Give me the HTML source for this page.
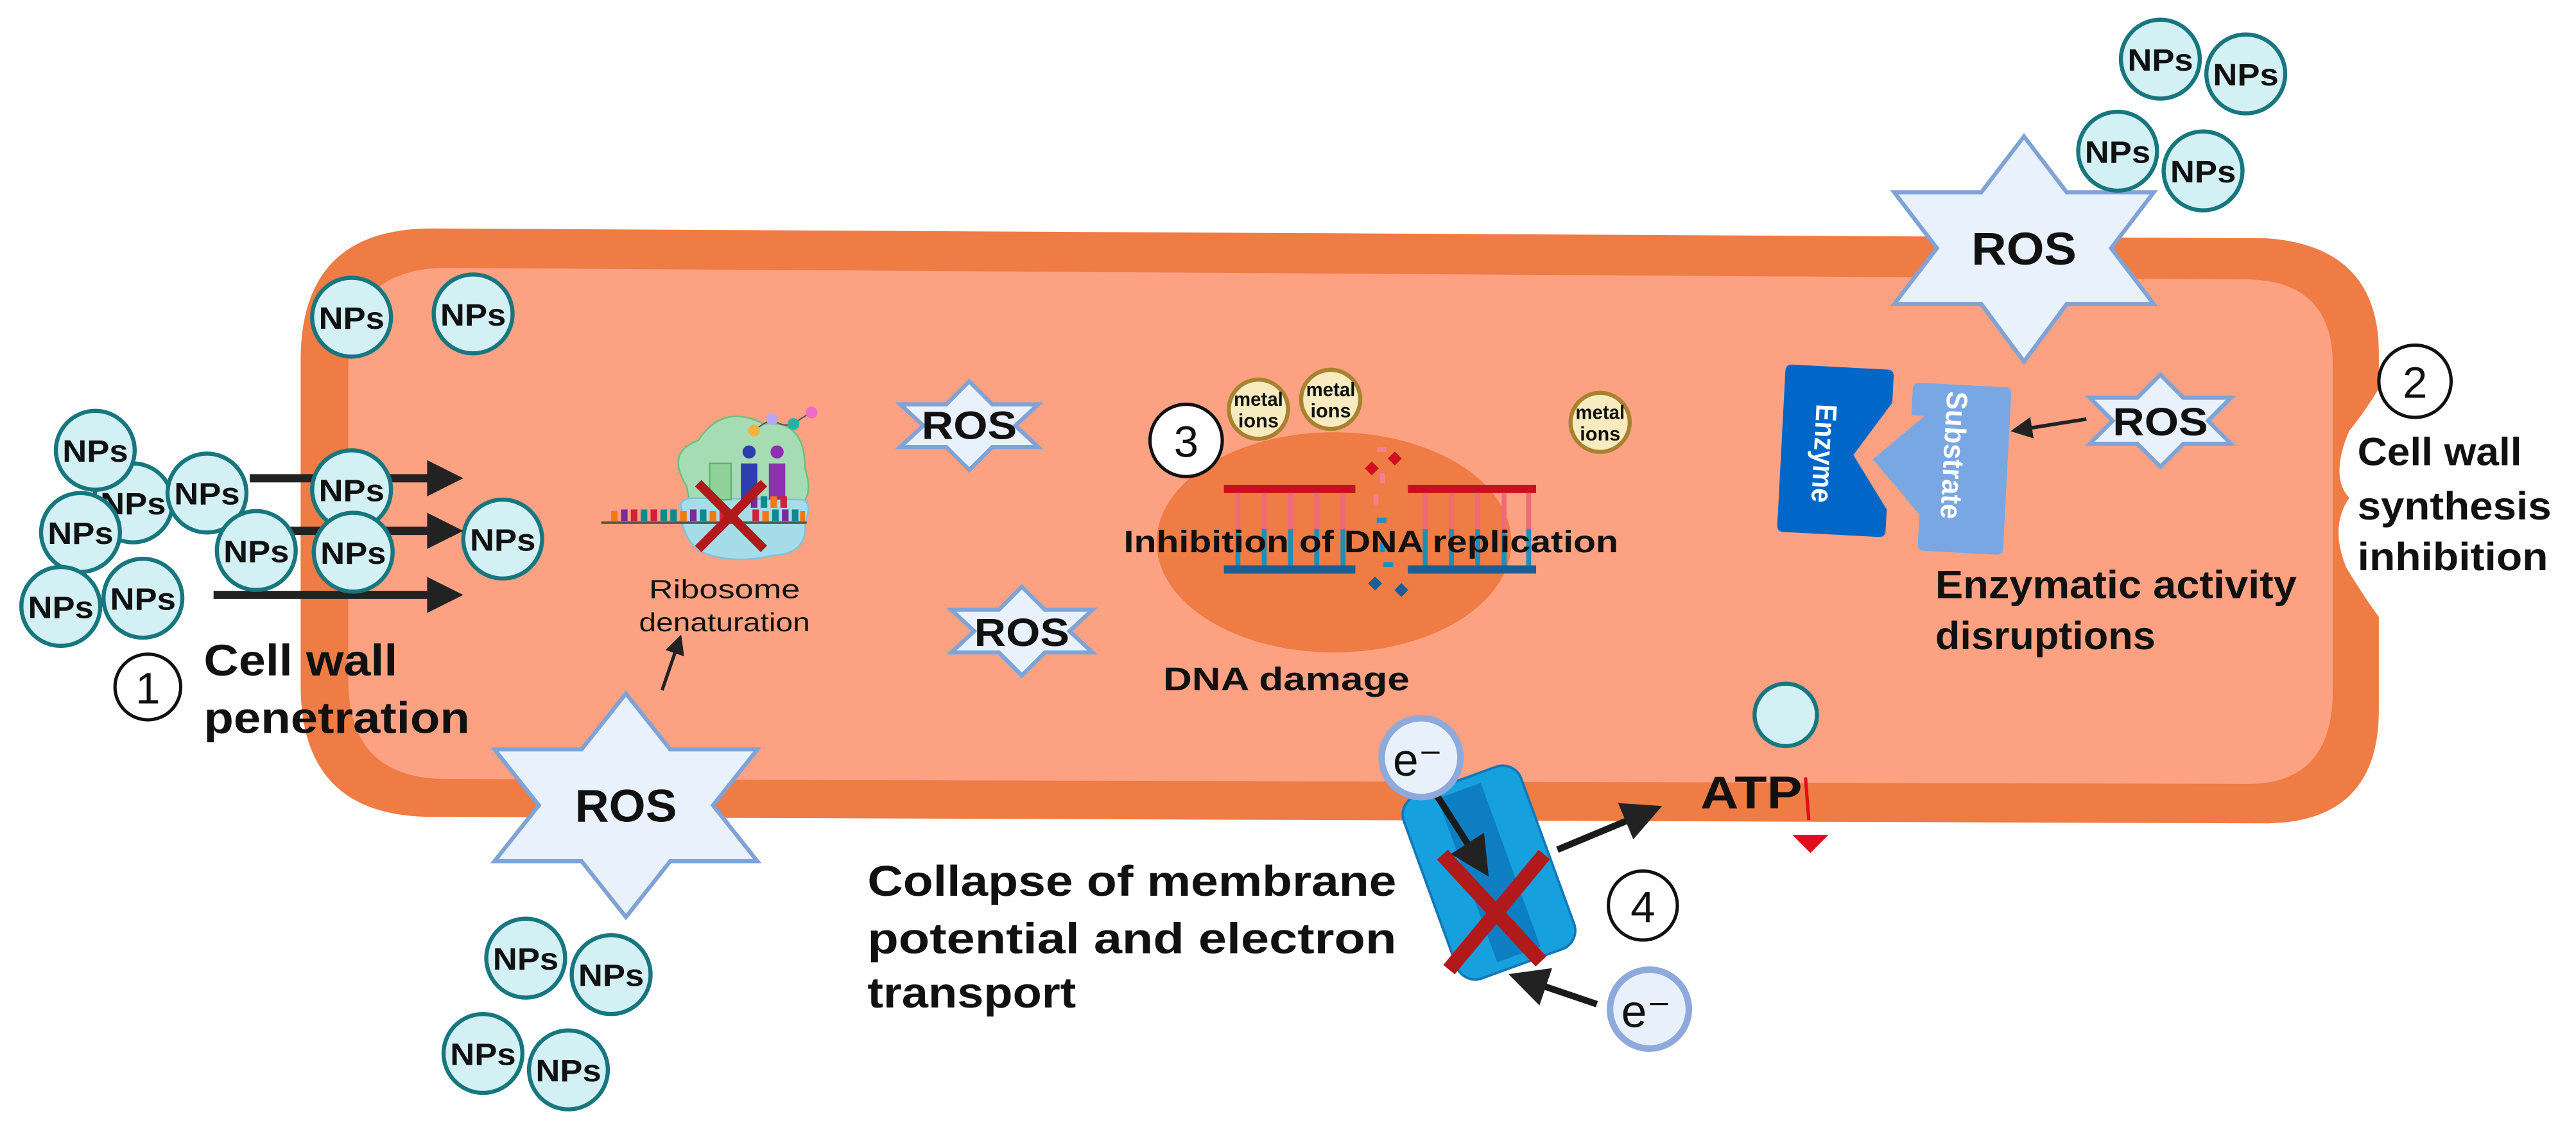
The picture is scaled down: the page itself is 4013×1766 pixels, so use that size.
<!DOCTYPE html>
<html><head><meta charset="utf-8"><style>
html,body{margin:0;padding:0;background:#fff;}
svg{display:block;}
text{font-family:"Liberation Sans",sans-serif;font-weight:bold;fill:#111;}
</style></head><body>
<svg width="4013" height="1766" viewBox="0 0 1568 690" preserveAspectRatio="none" xmlns="http://www.w3.org/2000/svg">
<defs>
<marker id="ah" markerWidth="6" markerHeight="6" refX="5" refY="3" orient="auto" markerUnits="strokeWidth"><path d="M0,0 L6,3 L0,6 z" fill="#222"/></marker>
<g id="np"><circle r="24" fill="#D3F0F5" stroke="#17767E" stroke-width="2.5"/><text y="7" text-anchor="middle" font-size="19" textLength="40" lengthAdjust="spacingAndGlyphs">NPs</text></g>
<g id="mi"><circle r="18" fill="#F8EBC0" stroke="#A8822E" stroke-width="2.5"/><text y="-2" text-anchor="middle" font-size="12" textLength="30" lengthAdjust="spacingAndGlyphs">metal</text><text y="11" text-anchor="middle" font-size="12">ions</text></g>
</defs>
<!-- cell -->
<path d="M263,139 L1380,145 Q1448,150 1448,215 L1448,432 Q1448,500 1380,501 L263,497 Q183,497 183,417 L183,219 Q183,139 263,139 Z" fill="#EF7B45"/>
<path d="M272,163 L1370,170 Q1420,172 1420,222 L1420,420 Q1420,476 1370,477 L272,474 Q212,474 212,414 L212,223 Q212,163 272,163 Z" fill="#FCA283"/>
<path d="M1450,233 Q1440,250 1430,262 Q1418,290 1430,303 Q1418,320 1428,345 Q1440,365 1450,378 Z" fill="#fff"/>
<!-- nucleoid -->
<ellipse cx="812" cy="330" rx="108" ry="67" fill="#EF7B45"/>
<!-- DNA -->
<g>
<rect x="745" y="295" width="80" height="5" fill="#C8101E"/><rect x="857" y="295" width="78" height="5" fill="#C8101E"/>
<rect x="745" y="344" width="80" height="5" fill="#1A5E96"/><rect x="857" y="344" width="78" height="5" fill="#1A5E96"/>
<g fill="#F06A78"><rect x="752" y="300" width="3" height="22"/><rect x="768" y="300" width="3" height="22"/><rect x="784" y="300" width="3" height="22"/><rect x="800" y="300" width="3" height="22"/><rect x="816" y="300" width="3" height="22"/><rect x="866" y="300" width="3" height="22"/><rect x="882" y="300" width="3" height="22"/><rect x="898" y="300" width="3" height="22"/><rect x="914" y="300" width="3" height="22"/><rect x="929" y="300" width="3" height="22"/></g>
<g fill="#1B8FB8"><rect x="752" y="322" width="3" height="22"/><rect x="768" y="322" width="3" height="22"/><rect x="784" y="322" width="3" height="22"/><rect x="800" y="322" width="3" height="22"/><rect x="816" y="322" width="3" height="22"/><rect x="866" y="322" width="3" height="22"/><rect x="882" y="322" width="3" height="22"/><rect x="898" y="322" width="3" height="22"/><rect x="914" y="322" width="3" height="22"/><rect x="929" y="322" width="3" height="22"/></g>
<g fill="#D0101E"><rect x="832" y="282" width="6" height="6" transform="rotate(45 835 285)"/><rect x="846" y="276" width="6" height="6" transform="rotate(45 849 279)"/></g>
<g fill="#F28090"><rect x="838" y="272" width="6" height="3"/><rect x="840" y="288" width="3" height="6"/><rect x="836" y="301" width="3" height="6"/></g>
<g fill="#1A8FC0"><rect x="838" y="315" width="6" height="3"/><rect x="840" y="330" width="3" height="6"/><rect x="842" y="342" width="6" height="3"/></g>
<g fill="#1A5E96"><rect x="834" y="352" width="6" height="6" transform="rotate(45 837 355)"/><rect x="850" y="356" width="6" height="6" transform="rotate(45 853 359)"/></g>
</g>
<text x="684" y="336" font-size="19" textLength="301" lengthAdjust="spacingAndGlyphs">Inhibition of DNA replication</text>
<text x="708" y="420" font-size="20" textLength="150" lengthAdjust="spacingAndGlyphs">DNA damage</text>
<!-- circle 3 -->
<circle cx="722" cy="268" r="22" fill="#fff" stroke="#111" stroke-width="2"/><text x="722" y="278" text-anchor="middle" font-size="27" style="font-weight:normal">3</text>
<use href="#mi" x="766" y="249"/><use href="#mi" x="810" y="243"/><use href="#mi" x="974" y="257"/>
<!-- ribosome -->
<g>
<path d="M418,296 Q405,275 425,268 Q440,245 465,258 Q490,255 490,285 Q495,300 488,307 L420,307 Z" fill="#A6DCB4" stroke="#6CC07E" stroke-width="1"/>
<path d="M415,310 Q412,304 422,303 L488,304 Q495,306 490,318 Q492,337 470,338 Q445,344 425,335 Q414,325 415,310 Z" fill="#A6DCE8" stroke="#7CC3DA" stroke-width="1"/>
<rect x="432" y="282" width="13" height="22" fill="#8FD39A" stroke="#5FB56E" stroke-width="1"/>
<rect x="451" y="282" width="10" height="22" fill="#2E3DB0"/><circle cx="456" cy="275" r="4" fill="#2E3DB0"/>
<rect x="468" y="282" width="10" height="22" fill="#8E2FAF"/><circle cx="473" cy="275" r="4" fill="#8E2FAF"/>
<line x1="366" y1="318" x2="491" y2="318" stroke="#555" stroke-width="1.5"/>
<g>
<rect x="372" y="311" width="4" height="6" fill="#F07A10"/><rect x="378" y="310" width="4" height="7" fill="#7A2A9A"/><rect x="384" y="310" width="4" height="7" fill="#D0203A"/><rect x="390" y="310" width="4" height="7" fill="#0E8A8F"/><rect x="396" y="310" width="4" height="7" fill="#D0203A"/><rect x="402" y="310" width="4" height="7" fill="#0E8A8F"/><rect x="408" y="310" width="4" height="7" fill="#0E8A8F"/><rect x="414" y="311" width="4" height="6" fill="#F07A10"/><rect x="420" y="310" width="4" height="7" fill="#7A2A9A"/><rect x="426" y="310" width="4" height="7" fill="#0E8A8F"/><rect x="432" y="311" width="4" height="6" fill="#F07A10"/><rect x="438" y="310" width="4" height="7" fill="#D0203A"/><rect x="458" y="310" width="4" height="7" fill="#D0203A"/><rect x="464" y="311" width="4" height="6" fill="#F07A10"/><rect x="470" y="310" width="4" height="7" fill="#0E8A8F"/><rect x="476" y="310" width="4" height="7" fill="#7A2A9A"/><rect x="482" y="310" width="4" height="7" fill="#0E8A8F"/><rect x="487" y="311" width="3" height="6" fill="#F07A10"/>
<rect x="457" y="302" width="4" height="7" fill="#7A2A9A"/><rect x="463" y="302" width="4" height="7" fill="#0E8A8F"/><rect x="469" y="302" width="4" height="7" fill="#F07A10"/><rect x="475" y="302" width="4" height="7" fill="#D0203A"/>
</g>
<path d="M459,262 Q464,258 470,255 Q476,260 483,258 Q488,254 494,251" fill="none" stroke="#555" stroke-width="0.8"/>
<circle cx="459" cy="262" r="3.6" fill="#F5B23A"/><circle cx="470" cy="255" r="3.6" fill="#B9A6F0"/><circle cx="483" cy="258" r="3.6" fill="#21B3A8"/><circle cx="494" cy="251" r="3.6" fill="#F06AC8"/>
<g stroke="#B01A1A" stroke-width="5.5"><line x1="425" y1="294" x2="465" y2="334"/><line x1="465" y1="294" x2="425" y2="334"/></g>
</g>
<text x="441" y="364" text-anchor="middle" font-size="16" style="font-weight:normal" textLength="92" lengthAdjust="spacingAndGlyphs">Ribosome</text>
<text x="441" y="384" text-anchor="middle" font-size="16" style="font-weight:normal" textLength="104" lengthAdjust="spacingAndGlyphs">denaturation</text>
<!-- enzyme / substrate -->
<g transform="rotate(3 1150 280)">
<path d="M1088,225 L1146,225 Q1150,225 1150,229 L1150,245 L1128,278 L1150,310 L1150,323 Q1150,327 1146,327 L1088,327 Q1084,327 1084,323 L1084,229 Q1084,225 1088,225 Z" fill="#0066C8"/>
<path d="M1166,232 L1218,232 Q1222,232 1222,236 L1222,330 Q1222,334 1218,334 L1174,334 Q1170,334 1170,330 L1170,312 L1140,280 L1170,252 L1162,252 L1162,236 Q1162,232 1166,232 Z" fill="#79A7E3"/>
<text transform="translate(1104,248) rotate(90)" font-size="18" style="fill:#fff" textLength="60" lengthAdjust="spacingAndGlyphs">Enzyme</text>
<text transform="translate(1183,236) rotate(90)" font-size="18" style="fill:#fff" textLength="78" lengthAdjust="spacingAndGlyphs">Substrate</text>
</g>
<text x="1178" y="364" font-size="24" textLength="220" lengthAdjust="spacingAndGlyphs">Enzymatic activity</text>
<text x="1178" y="395" font-size="24" textLength="134" lengthAdjust="spacingAndGlyphs">disruptions</text>
<!-- right labels -->
<circle cx="1470" cy="232" r="22" fill="#fff" stroke="#111" stroke-width="2"/><text x="1470" y="242" text-anchor="middle" font-size="27" style="font-weight:normal">2</text>
<text x="1435" y="283" font-size="24" textLength="100" lengthAdjust="spacingAndGlyphs">Cell wall</text>
<text x="1435" y="316" font-size="24" textLength="118" lengthAdjust="spacingAndGlyphs">synthesis</text>
<text x="1435" y="347" font-size="24" textLength="116" lengthAdjust="spacingAndGlyphs">inhibition</text>
<!-- ROS stars -->
<g fill="#E9F2FC" stroke="#7FA3D6" stroke-width="2.5">
<polygon points="1232,83 1258,117 1311,117 1285,151 1311,185 1258,185 1232,220 1206,185 1153,185 1179,151 1153,117 1206,117"/>
<polygon points="381,422 408,456 461,456 434,490 461,524 408,524 381,558 354,524 301,524 328,490 301,456 354,456"/>
<polygon points="590,232 604,246 632,246 618,259 632,272 604,272 590,286 576,272 548,272 562,259 548,246 576,246"/>
<polygon points="622,357 636,371 665,371 651,384 665,397 636,397 622,411 608,397 579,397 593,384 579,371 608,371"/>
<polygon points="1315,228 1329,242 1358,242 1344,256 1358,270 1329,270 1315,284 1301,270 1272,270 1286,256 1272,242 1301,242"/>
</g>
<text x="1232" y="161" text-anchor="middle" font-size="28" textLength="64" lengthAdjust="spacingAndGlyphs">ROS</text>
<text x="381" y="500" text-anchor="middle" font-size="28" textLength="62" lengthAdjust="spacingAndGlyphs">ROS</text>
<text x="590" y="267" text-anchor="middle" font-size="24" textLength="58" lengthAdjust="spacingAndGlyphs">ROS</text>
<text x="622" y="393" text-anchor="middle" font-size="24" textLength="58" lengthAdjust="spacingAndGlyphs">ROS</text>
<text x="1315" y="265" text-anchor="middle" font-size="24" textLength="58" lengthAdjust="spacingAndGlyphs">ROS</text>
<line x1="1270" y1="255" x2="1226" y2="262" stroke="#222" stroke-width="2.2" marker-end="url(#ah)"/>
<line x1="403" y1="420" x2="414" y2="388" stroke="#222" stroke-width="2" marker-end="url(#ah)"/>
<!-- NPs left cluster -->
<use href="#np" x="81" y="306"/>
<use href="#np" x="58" y="274"/>
<use href="#np" x="49" y="324"/>
<use href="#np" x="126" y="300"/>
<use href="#np" x="37" y="369"/>
<use href="#np" x="87" y="364"/>
<g stroke="#222" stroke-width="5"><line x1="152" y1="291" x2="265" y2="291"/><line x1="152" y1="323" x2="265" y2="323"/><line x1="130" y1="362" x2="265" y2="362"/></g>
<use href="#np" x="156" y="335"/>
<use href="#np" x="214" y="298"/>
<use href="#np" x="215" y="336"/>
<use href="#np" x="306" y="328"/>
<g fill="#222"><polygon points="260,280 282,291 260,302"/><polygon points="260,312 282,323 260,334"/><polygon points="260,351 282,362 260,373"/></g>
<use href="#np" x="214" y="193"/><use href="#np" x="288" y="191"/>
<use href="#np" x="1315" y="36"/><use href="#np" x="1367" y="45"/><use href="#np" x="1289" y="92"/><use href="#np" x="1341" y="104"/>
<use href="#np" x="320" y="583"/><use href="#np" x="372" y="593"/><use href="#np" x="294" y="641"/><use href="#np" x="346" y="651"/>
<!-- circle 1 -->
<circle cx="90" cy="418" r="20" fill="#fff" stroke="#111" stroke-width="2"/><text x="90" y="428" text-anchor="middle" font-size="27" style="font-weight:normal">1</text>
<text x="124" y="411" font-size="27" textLength="118" lengthAdjust="spacingAndGlyphs">Cell wall</text>
<text x="124" y="446" font-size="27" textLength="162" lengthAdjust="spacingAndGlyphs">penetration</text>
<!-- bottom -->
<text x="528" y="545" font-size="26" textLength="322" lengthAdjust="spacingAndGlyphs">Collapse of membrane</text>
<text x="528" y="580" font-size="26" textLength="322" lengthAdjust="spacingAndGlyphs">potential and electron</text>
<text x="528" y="613" font-size="26" textLength="127" lengthAdjust="spacingAndGlyphs">transport</text>
<g transform="rotate(-20 906 530)">
<rect x="868" y="472" width="76" height="118" rx="12" fill="#17A0DE" stroke="#1278B8" stroke-width="1.5"/>
<rect x="892" y="478" width="28" height="106" fill="#0E7EC2"/>
</g>
<line x1="872" y1="480" x2="904" y2="530" stroke="#1a1a1a" stroke-width="4" marker-end="url(#ah)"/>
<g stroke="#B01A1A" stroke-width="9"><line x1="878" y1="520" x2="938" y2="585"/><line x1="940" y1="520" x2="882" y2="590"/></g>
<line x1="948" y1="517" x2="1008" y2="492" stroke="#1a1a1a" stroke-width="4" marker-end="url(#ah)"/>
<line x1="972" y1="611" x2="922" y2="594" stroke="#1a1a1a" stroke-width="4" marker-end="url(#ah)"/>
<circle cx="865" cy="461" r="24" fill="#E8F1FB" stroke="#8EA9DB" stroke-width="4"/><text x="863" y="472" text-anchor="middle" font-size="28" style="font-weight:normal">e⁻</text>
<circle cx="1004" cy="614" r="24" fill="#E8F1FB" stroke="#8EA9DB" stroke-width="4"/><text x="1002" y="625" text-anchor="middle" font-size="28" style="font-weight:normal">e⁻</text>
<circle cx="1000" cy="551" r="21" fill="#fff" stroke="#111" stroke-width="2"/><text x="1000" y="561" text-anchor="middle" font-size="27" style="font-weight:normal">4</text>
<circle cx="1087" cy="435" r="19" fill="#D3F0F5" stroke="#17767E" stroke-width="2.5"/>
<text x="1035" y="492" font-size="28" textLength="62" lengthAdjust="spacingAndGlyphs">ATP</text>
<line x1="1099" y1="473" x2="1101" y2="499" stroke="#E0101A" stroke-width="2"/>
<polygon points="1091,508 1113,508 1102,519" fill="#E0101A"/>
</svg>
</body></html>
